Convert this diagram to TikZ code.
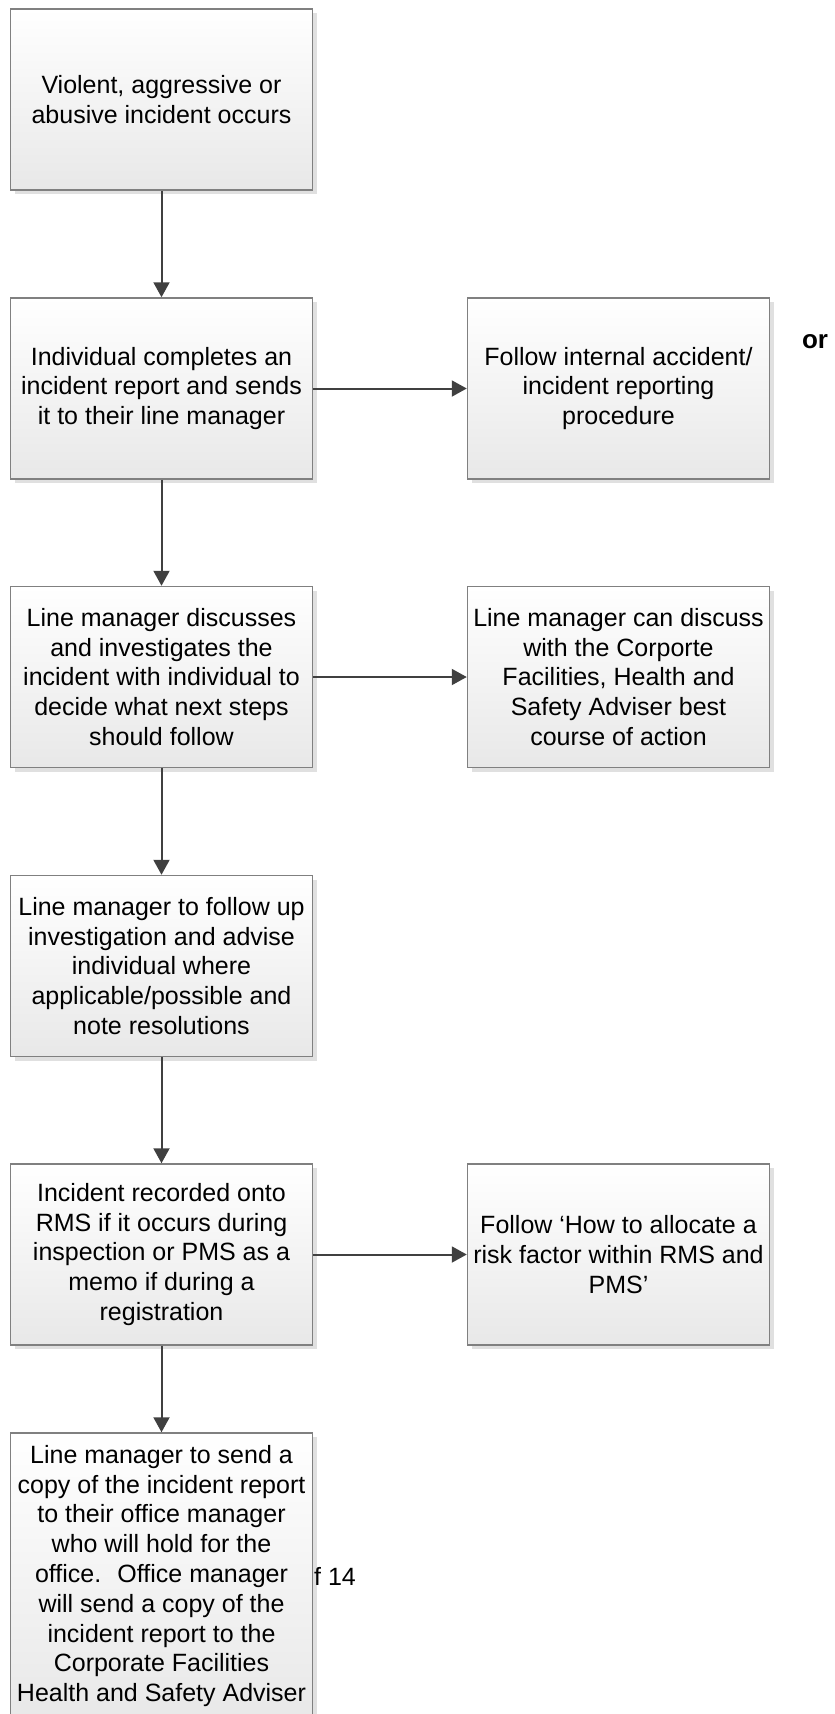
\documentclass[tikz,border=0pt]{standalone}
\usepackage{fontspec}
\setmainfont{Liberation Sans}
\usetikzlibrary{arrows.meta,shadows}

\newlength{\du}
\setlength{\du}{10pt}
\definecolor{boxlinecolor}{rgb}{0.500000, 0.500000, 0.500000}
\definecolor{arrowlinecolor}{rgb}{0.250000, 0.250000, 0.250000}
\definecolor{boxshadecolor}{rgb}{0.910000, 0.910000, 0.910000}
\definecolor{boxshadowcolor}{rgb}{0.880000, 0.880000, 0.880000}

\tikzset{
  stepbox/.style={rectangle, draw=boxlinecolor, line width=1.5pt,
    top color=white, bottom color=boxshadecolor,
    drop shadow={shadow xshift=4pt, shadow yshift=-4pt, fill=boxshadowcolor, opacity=1},
    minimum width=30.2\du, minimum height=18.1\du, inner sep=0pt, align=center,
    font=\fontsize{25}{29.8}\selectfont},
  flowarrow/.style={draw=arrowlinecolor, line width=2pt,
    -{Triangle[length=15pt, width=16pt]}}
}

\begin{document}
\begin{tikzpicture}
\useasboundingbox (0\du,0\du) rectangle (83.5\du,-171.4\du);
% left column
\node[stepbox] (incident) at (16.15\du,-9.95\du){Violent, aggressive or\\abusive incident occurs};
\node[stepbox] (report) at (16.15\du,-38.85\du){Individual completes an\\incident report and sends\\it to their line manager};
\node[stepbox] (discuss) at (16.15\du,-67.7\du){Line manager discusses\\and investigates the\\incident with individual to\\decide what next steps\\should follow};
\node[stepbox] (followup) at (16.15\du,-96.6\du){Line manager to follow up\\investigation and advise\\individual where\\applicable/possible and\\note resolutions};
\node[stepbox] (recorded) at (16.15\du,-125.45\du){Incident recorded onto\\RMS if it occurs during\\inspection or PMS as a\\memo if during a\\registration};
\node[stepbox, minimum height=28.6\du] (sendcopy) at (16.15\du,-157.6\du){Line manager to send a\\copy of the incident report\\to their office manager\\who will hold for the\\office.~ Office manager\\will send a copy of the\\incident report to the\\Corporate Facilities\\Health and Safety Adviser};
% right column
\node[stepbox] (internal) at (61.85\du,-38.85\du){Follow internal accident/\\incident reporting\\procedure};
\node[stepbox] (adviser) at (61.85\du,-67.7\du){Line manager can discuss\\with the Corporte\\Facilities, Health and\\Safety Adviser best\\course of action};
\node[stepbox] (riskfactor) at (61.85\du,-125.45\du){Follow ‘How to allocate a\\risk factor within RMS and\\PMS’};
% loose texts
\node[font=\bfseries\fontsize{26}{30}\selectfont, inner sep=0pt] (ortext) at (81.5\du,-34.2\du){or};
\node[anchor=west, inner sep=0pt, font=\fontsize{25}{29.8}\selectfont] (pagenum) at (31.4\du,-157.6\du){f 14};
% connectors
\draw[flowarrow] (incident) -- (report);
\draw[flowarrow] (report) -- (discuss);
\draw[flowarrow] (discuss) -- (followup);
\draw[flowarrow] (followup) -- (recorded);
\draw[flowarrow] (recorded) -- (sendcopy);
\draw[flowarrow] (report) -- (internal);
\draw[flowarrow] (discuss) -- (adviser);
\draw[flowarrow] (recorded) -- (riskfactor);
\end{tikzpicture}
\end{document}
